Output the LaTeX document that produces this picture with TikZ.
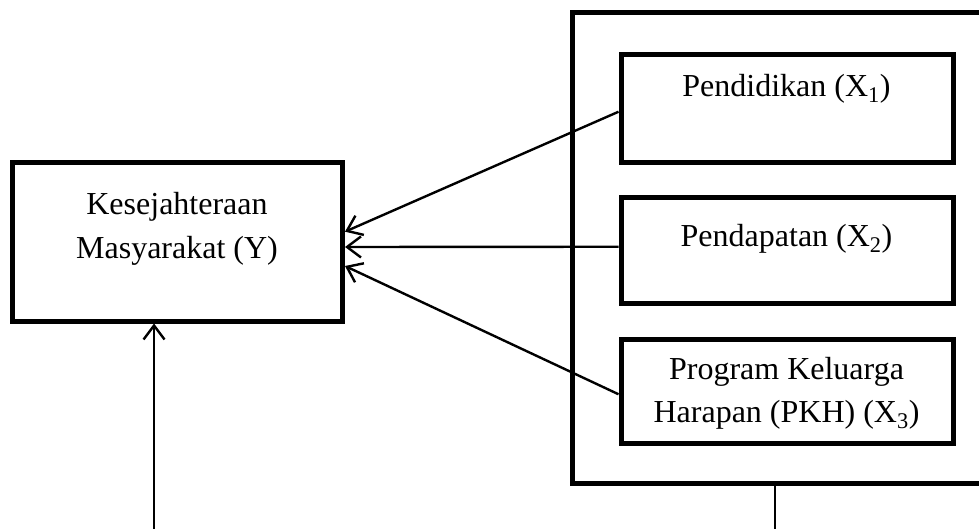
\documentclass[tikz,border=0pt]{standalone}
\usepackage{fontspec}
\setmainfont{Liberation Serif}
\usetikzlibrary{arrows.meta}
\begin{document}
\begin{tikzpicture}[x=1pt,y=-1pt,
  box/.style={draw, line width=5pt, inner sep=0pt, outer sep=2.5pt},
  lbl/.style={anchor=base, inner sep=0pt, font=\fontsize{32}{40}\selectfont},
  conn/.style={line width=2.4pt},
  arr/.style={conn, -{Straight Barb[length=14pt,width=21pt,line width=2.4pt]}}]
\useasboundingbox (0,0) rectangle (979,529);
\clip (0,0) rectangle (979,529);
% boxes
\node[box, minimum width=330.5pt, minimum height=158pt] (Y) at (177.25,242) {};
\node[box, minimum width=428pt, minimum height=471pt] (O) at (786,248) {};
\node[box, minimum width=332pt, minimum height=107.5pt] (P1) at (787,108.75) {};
\node[box, minimum width=332pt, minimum height=105.5pt] (P2) at (787,250.25) {};
\node[box, minimum width=332pt, minimum height=104.5pt] (P3) at (787,391.25) {};
% texts
\node[lbl] (ty1) at (177,215) {Kesejahteraan};
\node[lbl] (ty2) at (177,258.3) {Masyarakat (Y)};
\node[lbl] (t1) at (786.5,96.7) {Pendidikan (X\textsubscript{1})};
\node[lbl] (t2) at (786.5,246.7) {Pendapatan (X\textsubscript{2})};
\node[lbl] (t3a) at (786.5,379) {Program Keluarga};
\node[lbl] (t3b) at (786.5,422.7) {Harapan (PKH) (X\textsubscript{3})};
% connectors
\draw[arr] ([yshift=-3pt]P1.west) -- ([yshift=10.3pt]Y.east);
\draw[arr] ([yshift=3.5pt]P2.west) -- ([yshift=-5pt]Y.east);
\draw[arr] ([yshift=-3pt]P3.west) -- ([yshift=-24pt]Y.east);
\coordinate (bl) at (154,540);
\coordinate (br) at (775,540);
\draw[arr] (bl) -- (Y.south -| bl);
\draw[conn] (O.south -| br) -- (br);
\end{tikzpicture}
\end{document}
